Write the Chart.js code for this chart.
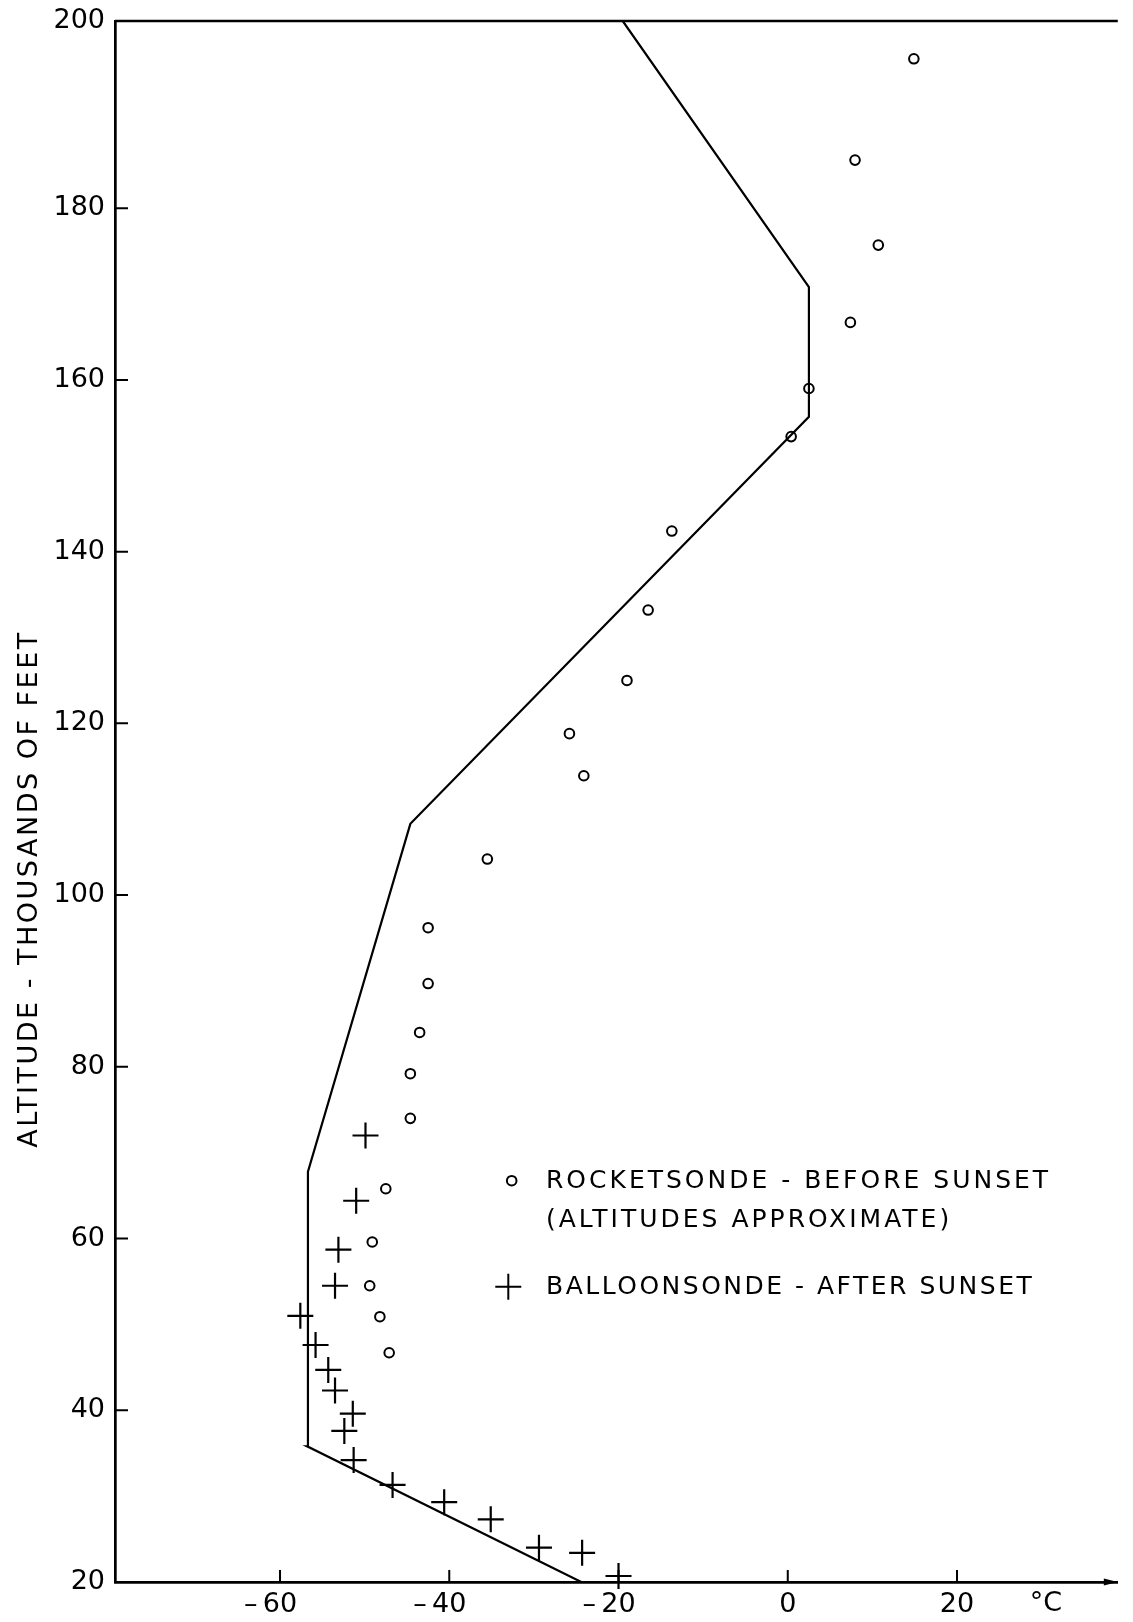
<!DOCTYPE html>
<html lang="en">
<head>
<meta charset="UTF-8">
<title>Temperature vs Altitude</title>
<script src="https://cdn.jsdelivr.net/npm/chart.js"></script>
<style>
  html, body { margin: 0; padding: 0; background: #fff; }
  #chart { display: block; }
</style>
</head>
<body>
<canvas id="chart" width="1133" height="1622"></canvas>
<script>
    // Standard temperature profile (solid line), deg C vs thousands of feet
    const profileTemp = [-24.4, -56.8, -56.7, -44.6, 2.5, 2.5, -19.5];
    const profileAlt  = [20, 35.8, 67.8, 108.3, 155.7, 170.8, 201.8];

    // Rocketsonde - before sunset (circles)
    const rocketTemp = [14.9, 7.95, 10.7, 7.4, 2.5, 0.4, -13.7, -16.5, -19.0, -25.8, -24.1,
                        -35.5, -42.5, -42.5, -43.5, -44.6, -44.6, -47.5, -49.1, -49.4, -48.2, -47.1];
    const rocketAlt  = [197.4, 185.6, 175.7, 166.7, 159.0, 153.4, 142.4, 133.2, 125.0, 118.8, 113.9,
                        104.2, 96.2, 89.7, 84.0, 79.2, 74.0, 65.8, 59.6, 54.5, 50.9, 46.7];

    // Balloonsonde - after sunset (crosses)
    const balloonTemp = [-49.9, -51.0, -53.1, -53.5, -57.6, -55.8, -54.3, -53.5, -51.4, -52.4,
                         -51.3, -46.7, -40.6, -35.1, -29.4, -24.3, -20.0];
    const balloonAlt  = [72.0, 64.4, 58.7, 54.5, 51.0, 47.6, 44.7, 42.3, 39.6, 37.6,
                         34.2, 31.3, 29.3, 27.3, 24.0, 23.4, 20.7];

    const xTicks = [-60, -40, -20, 0, 20];
    const yTicks = [20, 40, 60, 80, 100, 120, 140, 160, 180, 200];
    const xUnit = '°C';
    const yTitle = 'ALTITUDE - THOUSANDS OF FEET';
    const legendRocket = ['ROCKETSONDE - BEFORE SUNSET', '(ALTITUDES APPROXIMATE)'];
    const legendBalloon = 'BALLOONSONDE - AFTER SUNSET';

    const FONT = "'DejaVu Sans', sans-serif";
    Chart.defaults.font.family = FONT;
    Chart.defaults.font.size = 27;
    Chart.defaults.color = '#000';

    const toPoints = (xs, ys) => xs.map((x, i) => ({ x: x, y: ys[i] }));

    // frame extras: top line, inward ticks, arrow, unit, axis title, legend
    const extras = {
        id: 'extras',
        afterDraw(chart) {
            const ctx = chart.ctx;
            const area = chart.chartArea;
            const xs = chart.scales.x;
            const ys = chart.scales.y;
            ctx.save();
            ctx.strokeStyle = '#000';
            ctx.fillStyle = '#000';

            // top border
            ctx.lineWidth = 2.7;
            ctx.beginPath();
            ctx.moveTo(area.left, area.top);
            ctx.lineTo(area.right, area.top);
            ctx.stroke();

            // inward tick marks
            ctx.lineWidth = 2;
            ctx.beginPath();
            xTicks.forEach(v => {
                const px = xs.getPixelForValue(v);
                ctx.moveTo(px, area.bottom);
                ctx.lineTo(px, area.bottom - 12);
            });
            yTicks.slice(1, -1).forEach(v => {
                const py = ys.getPixelForValue(v);
                ctx.moveTo(area.left, py);
                ctx.lineTo(area.left + 13, py);
            });
            ctx.stroke();

            // arrow head on x axis
            ctx.beginPath();
            ctx.moveTo(area.right, area.bottom);
            ctx.lineTo(area.right - 14, area.bottom - 3.5);
            ctx.lineTo(area.right - 14, area.bottom + 3.5);
            ctx.closePath();
            ctx.fill();

            // unit label
            ctx.font = '27px ' + FONT;
            ctx.textAlign = 'center';
            ctx.textBaseline = 'middle';
            ctx.fillText(xUnit, xs.getPixelForValue(30.5), area.bottom + 22);

            // y axis title
            ctx.save();
            ctx.translate(30, 889);
            ctx.rotate(-Math.PI / 2);
            ctx.letterSpacing = '2.5px';
            ctx.fillText(yTitle, 0, 0);
            ctx.restore();

            // legend
            ctx.font = '25px ' + FONT;
            ctx.letterSpacing = '3px';
            ctx.textAlign = 'left';
            ctx.lineWidth = 2;
            ctx.beginPath();
            ctx.arc(511.7, 1180.7, 4.8, 0, Math.PI * 2);
            ctx.stroke();
            ctx.fillText(legendRocket[0], 546, 1181);
            ctx.fillText(legendRocket[1], 546, 1220);
            ctx.beginPath();
            ctx.moveTo(508.3 - 13, 1286.7);
            ctx.lineTo(508.3 + 13, 1286.7);
            ctx.moveTo(508.3, 1286.7 - 13);
            ctx.lineTo(508.3, 1286.7 + 13);
            ctx.stroke();
            ctx.letterSpacing = '2.5px';
            ctx.fillText(legendBalloon, 546, 1287);
            ctx.restore();
        }
    };

    new Chart(document.getElementById('chart'), {
        type: 'scatter',
        data: {
            datasets: [
                {
                    type: 'line',
                    label: 'Profile',
                    data: toPoints(profileTemp, profileAlt),
                    borderColor: '#000',
                    borderWidth: 2.2,
                    pointRadius: 0,
                    tension: 0,
                    fill: false
                },
                {
                    label: 'Rocketsonde - before sunset',
                    data: toPoints(rocketTemp, rocketAlt),
                    pointStyle: 'circle',
                    pointRadius: 4.8,
                    borderWidth: 2,
                    borderColor: '#000',
                    backgroundColor: 'rgba(0,0,0,0)',
                    clip: false
                },
                {
                    label: 'Balloonsonde - after sunset',
                    data: toPoints(balloonTemp, balloonAlt),
                    pointStyle: 'cross',
                    pointRadius: 13,
                    borderWidth: 2.2,
                    borderColor: '#000',
                    clip: false
                }
            ]
        },
        options: {
            responsive: false,
            animation: false,
            layout: { padding: { top: 21, left: 0, right: 0, bottom: 0 } },
            plugins: {
                legend: { display: false },
                tooltip: { enabled: false }
            },
            scales: {
                x: {
                    type: 'linear',
                    min: -79.5,
                    max: 39,
                    grid: { display: false, drawTicks: false },
                    border: { display: true, color: '#000', width: 2.7 },
                    afterBuildTicks: axis => { axis.ticks = xTicks.map(v => ({ value: v })); },
                    afterFit: axis => {
                        axis.height = 40;
                        axis.paddingLeft = 0;
                        axis.paddingRight = 0;
                    },
                    ticks: {
                        padding: 7,
                        maxRotation: 0,
                        callback: v => v < 0 ? '\u2013\u2009' + Math.abs(v) + '\u2002\u2009' : String(v)
                    }
                },
                y: {
                    type: 'linear',
                    min: 20,
                    max: 201.8,
                    grid: { display: false, drawTicks: false },
                    border: { display: true, color: '#000', width: 2.7 },
                    // the hand-drawn "200" sits on the top frame line
                    afterBuildTicks: axis => {
                        const last = yTicks[yTicks.length - 1];
                        axis.ticks = yTicks.map(v => ({ value: v === last ? axis.max : v }));
                    },
                    afterFit: axis => {
                        axis.width = 115;
                        axis.paddingTop = 0;
                        axis.paddingBottom = 0;
                    },
                    ticks: {
                        padding: 10,
                        callback: (v, i) => String(yTicks[i])
                    }
                }
            }
        },
        plugins: [extras]
    });
</script>
</body>
</html>
